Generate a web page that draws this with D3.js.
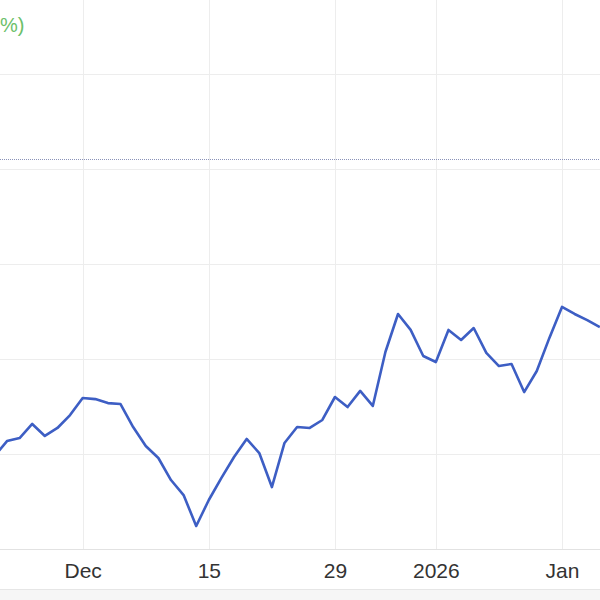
<!DOCTYPE html>
<html>
<head>
<meta charset="utf-8">
<script src="https://cdn.jsdelivr.net/npm/d3@7"></script>
<style>
  body { margin: 0; background: #fff; }
  svg { display: block; font-family: "Liberation Sans", Arial, sans-serif; }
</style>
</head>
<body>
<svg width="600" height="600"></svg>
<script>
  // trading-day index -> price
  const dayIndex = [-1, 0, 1, 2, 3, 4, 5, 6, 7, 8, 9, 10, 11, 12, 13, 14, 15, 16, 17, 18, 19,
    20, 21, 22, 23, 24, 25, 26, 27, 28, 29, 30, 31, 32, 33, 34, 35, 36, 37, 38, 39,
    40, 41, 42, 43, 44, 45, 46, 47];
  const prices = [99.89, 100.68, 100.84, 101.58, 100.95, 101.37, 102.05, 102.95, 102.89, 102.68, 102.63,
    101.42, 100.42, 99.79, 98.63, 97.84, 96.21, 97.58, 98.74, 99.84, 100.79,
    100.05, 98.26, 100.58, 101.42, 101.37, 101.79, 103.0, 102.47, 103.32, 102.53,
    105.37, 107.37, 106.53, 105.16, 104.84, 106.53, 106.0, 106.63, 105.32, 104.63,
    104.74, 103.26, 104.37, 106.11, 107.74, 107.37, 107.05, 106.68];

  const tickIndex = [6, 16, 26, 34, 44];
  const tickLabels = ['Dec', '15', '29', '2026', 'Jan'];
  const gridValues = [100, 105, 110, 115, 120];
  const prevClose = [115.53];

  const svg = d3.select('svg');

  const x = d3.scaleLinear().domain([0, 44]).range([7, 562]);
  const y = d3.scaleLinear().domain([100, 120]).range([454, 74]);
  const axisY = 549;

  // light band under the axis
  svg.append('rect')
    .attr('x', 0).attr('y', 589).attr('width', 600).attr('height', 11)
    .attr('fill', '#f6f6f6');
  svg.append('line')
    .attr('x1', 0).attr('x2', 600).attr('y1', 589.5).attr('y2', 589.5)
    .attr('stroke', '#e6e6e6');

  // horizontal grid
  svg.append('g').selectAll('line')
    .data(gridValues)
    .join('line')
      .attr('x1', 0).attr('x2', 600)
      .attr('y1', d => Math.round(y(d)) + 0.5)
      .attr('y2', d => Math.round(y(d)) + 0.5)
      .attr('stroke', '#ededed');

  // vertical grid
  svg.append('g').selectAll('line')
    .data(tickIndex)
    .join('line')
      .attr('x1', d => Math.round(x(d)) + 0.5)
      .attr('x2', d => Math.round(x(d)) + 0.5)
      .attr('y1', 0).attr('y2', axisY)
      .attr('stroke', '#ededed');

  // previous close dotted line
  svg.append('g').selectAll('line')
    .data(prevClose)
    .join('line')
      .attr('x1', 0).attr('x2', 600)
      .attr('y1', d => Math.round(y(d)) + 0.5)
      .attr('y2', d => Math.round(y(d)) + 0.5)
      .attr('stroke', '#8a92b8')
      .attr('stroke-dasharray', '1,1');

  // x axis
  const xAxis = d3.axisBottom(x)
    .tickValues(tickIndex)
    .tickFormat((d, i) => tickLabels[i])
    .tickSize(0)
    .tickPadding(14);

  const axisG = svg.append('g')
    .attr('transform', `translate(0,${axisY})`)
    .call(xAxis);
  axisG.select('.domain').remove();
  axisG.selectAll('text')
    .attr('font-size', 21)
    .attr('font-family', '"Liberation Sans", Arial, sans-serif')
    .attr('fill', '#333');
  svg.append('line')
    .attr('x1', 0).attr('x2', 600).attr('y1', axisY + 0.5).attr('y2', axisY + 0.5)
    .attr('stroke', '#e2e2e2');

  // price line
  const line = d3.line()
    .x((d, i) => x(dayIndex[i]))
    .y(d => y(d));

  svg.append('path')
    .datum(prices)
    .attr('d', line)
    .attr('fill', 'none')
    .attr('stroke', '#3d5ec4')
    .attr('stroke-width', 2.6)
    .attr('stroke-linejoin', 'round');

  // visible tail of the change text
  svg.append('text')
    .attr('x', 0).attr('y', 32)
    .attr('font-size', 20)
    .attr('fill', '#6cc06a')
    .text('%)');
</script>
</body>
</html>
